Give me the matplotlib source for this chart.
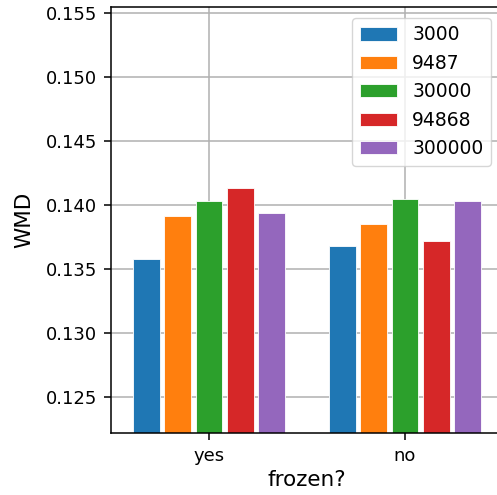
import matplotlib.pyplot as plt
import numpy as np

# data
groups = ['yes', 'no']
series = ['3000', '9487', '30000', '94868', '300000']
wmd_yes = [0.13577, 0.13913, 0.14028, 0.14134, 0.13934]
wmd_no = [0.13681, 0.13850, 0.14048, 0.13715, 0.14028]
colors = ['#1f77b4', '#ff7f0e', '#2ca02c', '#d62728', '#9467bd']

fig = plt.figure(figsize=(4.97, 4.95), dpi=100)
# the original axes runs a little past the right edge of the picture
ax = fig.add_axes([111 / 497, (495 - 432.7) / 495, 392 / 497, (432.7 - 7.3) / 495])

x = np.arange(len(groups))
slot = 0.16
bar_w = 0.135
for i, name in enumerate(series):
    vals = [wmd_yes[i], wmd_no[i]]
    off = (i - 2) * slot
    ax.bar(x + off, vals, width=bar_w, color=colors[i], edgecolor='white',
           linewidth=0.6, label=name, zorder=2)

ax.set_xticks(x)
ax.set_xticklabels(groups)
ax.tick_params(axis='both', labelsize=13, length=5, width=1.1, pad=5)
ax.set_yticks([0.125, 0.130, 0.135, 0.140, 0.145, 0.150, 0.155])
ax.set_ylim(0.1222, 0.15545)
ax.set_xlim(-0.5, 1.5)
for sp in ax.spines.values():
    sp.set_linewidth(1.1)
ax.grid(True, color='#b0b0b0', linewidth=1.1, zorder=0)
ax.set_axisbelow(True)
ax.set_xlabel('frozen?', fontsize=15.5, labelpad=4)
ax.set_ylabel('WMD', fontsize=15.5, labelpad=8)
ax.legend(loc='upper right', fontsize=13.5, handlelength=2.0,
          bbox_to_anchor=(491 / 497, 1 - 18 / 495), bbox_transform=fig.transFigure,
          borderaxespad=0)

plt.savefig('out.png', dpi=100)
